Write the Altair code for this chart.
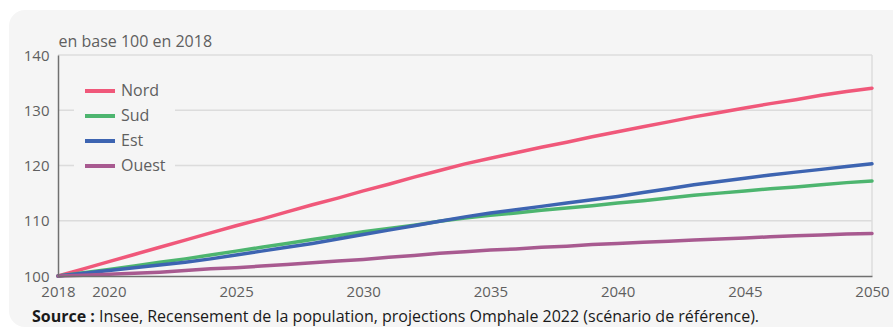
import altair as alt
import pandas as pd

years = list(range(2018, 2051))
nord = [100.0, 101.3, 102.6, 103.9, 105.2, 106.5, 107.8, 109.1, 110.3, 111.6, 112.9,
        114.1, 115.4, 116.6, 117.9, 119.1, 120.3, 121.3, 122.3, 123.3, 124.2, 125.2,
        126.1, 127.0, 127.9, 128.8, 129.6, 130.4, 131.2, 131.9, 132.7, 133.4, 134.0]
sud = [100.0, 100.6, 101.2, 101.8, 102.5, 103.1, 103.8, 104.5, 105.2, 105.9, 106.6,
       107.3, 108.0, 108.6, 109.2, 109.9, 110.5, 111.0, 111.4, 111.9, 112.3, 112.7,
       113.2, 113.6, 114.1, 114.6, 115.0, 115.4, 115.8, 116.1, 116.5, 116.9, 117.2]
est = [100.0, 100.5, 101.0, 101.5, 102.0, 102.5, 103.1, 103.8, 104.5, 105.2, 105.9,
       106.7, 107.5, 108.3, 109.1, 109.9, 110.7, 111.4, 112.0, 112.6, 113.2, 113.8,
       114.4, 115.1, 115.8, 116.5, 117.1, 117.7, 118.3, 118.8, 119.3, 119.8, 120.3]
ouest = [100.0, 100.15, 100.3, 100.5, 100.7, 101.0, 101.3, 101.5, 101.8, 102.1, 102.4,
         102.7, 103.0, 103.4, 103.7, 104.1, 104.4, 104.7, 104.9, 105.2, 105.4, 105.7,
         105.9, 106.1, 106.3, 106.5, 106.7, 106.9, 107.1, 107.3, 107.4, 107.6, 107.7]

series = ["Nord", "Sud", "Est", "Ouest"]
colors = ["#f0587a", "#4db56f", "#3d64b1", "#a85a90"]
x_ticks = [2018, 2020, 2025, 2030, 2035, 2040, 2045, 2050]
y_ticks = [100, 110, 120, 130, 140]
grid_y = [110, 120, 130, 140]
grid_x = [2050]
y_title = "en base 100 en 2018"
source_bold = "Source :"
source_text = "Insee, Recensement de la population, projections Omphale 2022 (scénario de référence)."

rows = []
for name, vals in zip(series, [nord, sud, est, ouest]):
    for y, v in zip(years, vals):
        rows.append({"annee": y, "valeur": v, "zone": name})
df = pd.DataFrame(rows)

FONT = "Open Sans"
W, H = 814, 221
LABEL_COLOR = "#5f5f5f"

xscale = alt.Scale(domain=[2018, 2050], nice=False, zero=False)
yscale = alt.Scale(domain=[100, 140], nice=False, zero=False)

xaxis = alt.Axis(values=x_ticks, format="d", title=None, grid=False, ticks=False,
                 labelPadding=8, labelFlush=False, labelOverlap=False,
                 domainColor="#707070", domainWidth=1.5, zindex=2,
                 labelColor=LABEL_COLOR, labelFontSize=15, labelFont=FONT)
yaxis = alt.Axis(values=y_ticks, title=y_title, titleAngle=0, titleX=0, titleY=-9,
                 titleAlign="left", titleBaseline="alphabetic", titleFont=FONT,
                 titleFontSize=16, titleFontWeight="normal", titleColor=LABEL_COLOR,
                 ticks=False, labelPadding=9, grid=False, zindex=2,
                 domainColor="#707070", domainWidth=1.5,
                 labelColor=LABEL_COLOR, labelFontSize=15, labelFont=FONT)

bg = alt.Chart(pd.DataFrame({"a": [0]})).mark_rect(
    color="#f5f5f5", cornerRadius=16
).encode(
    x=alt.value(-49), x2=alt.value(900), y=alt.value(-45), y2=alt.value(272)
)

hgrid = alt.Chart(pd.DataFrame({"g": grid_y})).mark_rule(color="#dcdcdc", strokeWidth=1.5).encode(
    y=alt.Y("g:Q", scale=yscale, axis=yaxis), x=alt.value(0), x2=alt.value(W)
)
vgrid = alt.Chart(pd.DataFrame({"gx": grid_x})).mark_rule(color="#dcdcdc", strokeWidth=1.5).encode(
    x=alt.X("gx:Q", scale=xscale, axis=xaxis), y=alt.value(0), y2=alt.value(H)
)

lines = alt.Chart(df).mark_line(strokeWidth=3.5, strokeCap="round", strokeJoin="round").encode(
    x=alt.X("annee:Q", scale=xscale, axis=xaxis),
    y=alt.Y("valeur:Q", scale=yscale, axis=yaxis),
    color=alt.Color("zone:N", sort=series, scale=alt.Scale(domain=series, range=colors),
                    legend=alt.Legend(title=None, orient="none", legendX=16, legendY=10,
                                      symbolType="stroke", symbolStrokeWidth=4,
                                      symbolSize=900, rowPadding=-3.6, padding=9,
                                      fillColor="#f5f5f5", labelFont=FONT, labelFontSize=16,
                                      labelColor=LABEL_COLOR, labelOffset=4)),
)

src = pd.DataFrame({"b": [source_bold], "t": [source_text]})
txt_bold = alt.Chart(src).mark_text(align="left", baseline="alphabetic", font=FONT, fontSize=16,
                                    fontWeight="bold", color="#1a1a1a").encode(
    x=alt.value(-26), y=alt.value(267), text="b:N")
txt_norm = alt.Chart(src).mark_text(align="left", baseline="alphabetic", font=FONT, fontSize=16,
                                    color="#1a1a1a").encode(
    x=alt.value(41), y=alt.value(267), text="t:N")

chart = alt.layer(bg, hgrid, vgrid, lines, txt_bold, txt_norm).properties(
    width=W, height=H, background="white",
    padding={"left": 58, "top": 55, "right": 21, "bottom": 53},
    autosize=alt.AutoSizeParams(type="none")
).resolve_scale(x="shared", y="shared").configure_view(stroke=None)

chart.save("out.html", embed_options={"renderer": "svg", "actions": False})
